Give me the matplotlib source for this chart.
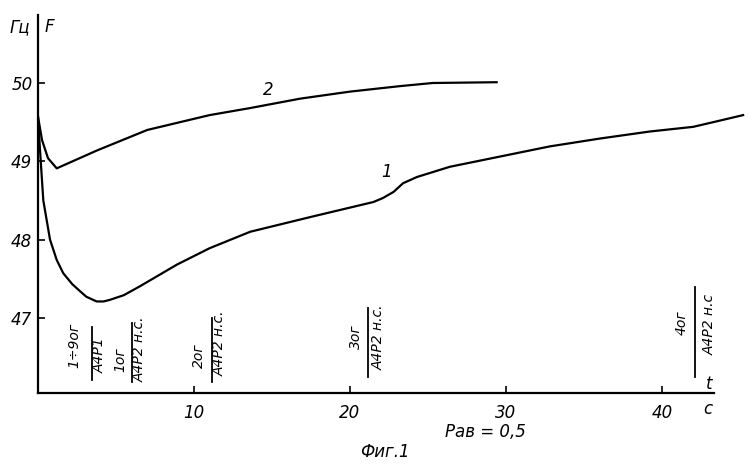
import matplotlib
matplotlib.use("Agg")
import matplotlib.pyplot as plt

plt.rcParams['font.family'] = ['Liberation Sans Narrow', 'DejaVu Sans']
plt.rcParams['font.style'] = 'italic'

# Curve 1
t1 = [0, 0.13, 0.34, 0.77, 1.2, 1.62, 2.2, 2.7, 3.1, 3.76, 4.2, 4.6, 5.5, 6.5, 7.7, 8.9, 11.0, 13.6, 17.5,
      21.5, 22.1, 22.8, 23.4, 24.3, 26.4, 29.6, 32.8, 36.0, 39.2, 42.0, 43.5, 45.2]
F1 = [49.57, 49.14, 48.5, 48.0, 47.74, 47.57, 47.43, 47.34, 47.27, 47.21, 47.21, 47.23, 47.29, 47.4, 47.54, 47.68, 47.89, 48.1, 48.29,
      48.48, 48.53, 48.61, 48.72, 48.80, 48.93, 49.06, 49.19, 49.29, 49.38, 49.44, 49.51, 49.59]
# Curve 2
t2 = [0, 0.26, 0.64, 1.2, 3.8, 7.0, 11.0, 13.6, 16.8, 20.0, 23.2, 25.3, 29.4]
F2 = [49.57, 49.27, 49.04, 48.91, 49.14, 49.4, 49.59, 49.68, 49.80, 49.89, 49.96, 50.0, 50.01]

yticks = [47, 48, 49, 50]
xticks = [10, 20, 30, 40]

events_t = [3.46, 6.0, 11.15, 21.15, 42.1]
events_num = ["1÷9ог", "1ог", "2ог", "3ог", "4ог"]
events_den = ["А4Р1", "А4Р2 н.с.", "А4Р2 н.с.", "А4Р2 н.с.", "А4Р2 н.с"]

fig = plt.figure(figsize=(7.5, 4.69), dpi=100)
W, H = 750, 469
x0, x1 = 38, 745
y0, y1 = 393, 15
ax = fig.add_axes([x0 / W, (H - y0) / H, (x1 - x0) / W, (y0 - y1) / H])

def px2t(px):
    return (px - 38) / 15.6

def py2F(py):
    return 50 - (py - 83) / 78.3

ax.set_xlim(0, px2t(x1))
ax.set_ylim(py2F(y0), py2F(y1))

ax.plot(t1, F1, color='black', lw=1.6, solid_joinstyle='round')
ax.plot(t2, F2, color='black', lw=1.6, solid_joinstyle='round')

for s in ['top', 'right']:
    ax.spines[s].set_visible(False)
ax.spines['left'].set_linewidth(1.6)
ax.spines['bottom'].set_linewidth(1.6)
ax.spines['bottom'].set_bounds(0, px2t(714))

ax.set_xticks(xticks)
ax.set_yticks(yticks)
ax.tick_params(direction='in', length=5, width=1.2, labelsize=12, pad=4)
ax.tick_params(axis='x', pad=8)
ax.set_xticklabels([str(v) for v in xticks], fontstyle='italic')
ax.set_yticklabels([str(v) for v in yticks], fontstyle='italic')

# axis names
ax.text(px2t(20), py2F(27), "Гц", fontsize=12, ha='center', va='center', clip_on=False)
ax.text(px2t(49), py2F(27), "F", fontsize=12, ha='center', va='center', clip_on=False)
ax.text(px2t(709), py2F(384), "t", fontsize=12, ha='center', va='center', clip_on=False)
ax.text(px2t(708), py2F(409), "c", fontsize=12, ha='center', va='center', clip_on=False)

# curve labels
ax.text(px2t(268), py2F(90), "2", fontsize=12, ha='center', va='center')
ax.text(px2t(387), py2F(172), "1", fontsize=12, ha='center', va='center')

# event labels (fractions)
line_spans = [(327, 380), (323, 382), (318, 382), (308, 377), (287, 377)]
num_pos = [(74, 345), (120, 360), (199, 356), (356, 337), (682, 323)]
den_pos = [(100, 355), (140, 349), (220, 343), (379, 337), (710, 324)]
for t, num, den, (ya, yb), (nx, ny), (dx, dy) in zip(events_t, events_num, events_den,
                                                    line_spans, num_pos, den_pos):
    ax.plot([t, t], [py2F(ya), py2F(yb)], color='black', lw=1.3)
    ax.text(px2t(nx), py2F(ny), num, rotation=90, fontsize=10, ha='center', va='center')
    ax.text(px2t(dx), py2F(dy), den, rotation=90, fontsize=10, ha='center', va='center')

fig.text(485 / W, 1 - 432 / H, "Рав = 0,5", fontsize=12, ha='center', va='center', style='italic')
fig.text(385 / W, 1 - 452 / H, "Фиг.1", fontsize=12, ha='center', va='center', style='italic')

fig.savefig("out.png", dpi=100)
